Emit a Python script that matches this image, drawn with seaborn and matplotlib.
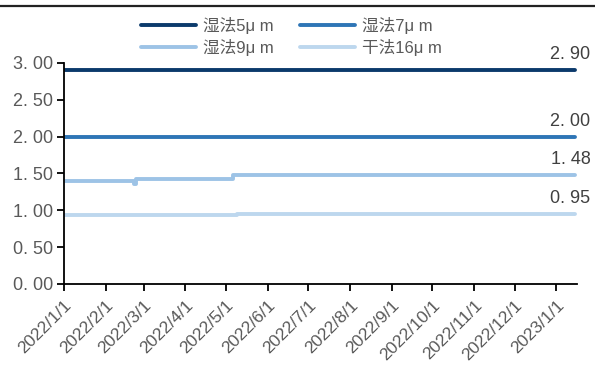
import matplotlib
matplotlib.use("Agg")
import matplotlib.pyplot as plt
from matplotlib.lines import Line2D
import pandas as pd
import seaborn as sns

# Separator price series (yuan / m²), recorded at each price change
wet5_dates = ["2022-01-01", "2023-01-15"]
wet5_values = [2.90, 2.90]

wet7_dates = ["2022-01-01", "2023-01-15"]
wet7_values = [2.00, 2.00]

wet9_dates = ["2022-01-01", "2022-02-21", "2022-02-22", "2022-02-23", "2022-05-06", "2023-01-15"]
wet9_values = [1.40, 1.40, 1.36, 1.43, 1.48, 1.48]

dry16_dates = ["2022-01-01", "2022-05-09", "2023-01-15"]
dry16_values = [0.93, 0.95, 0.95]

series_names = ["湿法5μ m", "湿法7μ m", "湿法9μ m", "干法16μ m"]
series_colors = ["#0b3a6b", "#2e75b6", "#9dc3e6", "#bdd7ee"]
end_labels = ["2. 90", "2. 00", "1. 48", "0. 95"]

y_ticks = [0.0, 0.5, 1.0, 1.5, 2.0, 2.5, 3.0]
x_ticks = pd.date_range("2022-01-01", "2023-01-01", freq="MS")

frames = []
for name, d, v in zip(series_names,
                      [wet5_dates, wet7_dates, wet9_dates, dry16_dates],
                      [wet5_values, wet7_values, wet9_values, dry16_values]):
    frames.append(pd.DataFrame({"date": pd.to_datetime(d), "price": v, "series": name}))
df = pd.concat(frames, ignore_index=True)

sns.set_theme(style="white")
plt.rcParams["font.family"] = ["Liberation Sans", "Noto Sans CJK SC", "DejaVu Sans"]
text_color = "#595959"

fig = plt.figure(figsize=(5.95, 3.65), dpi=100)
ax = fig.add_axes([0.1076, 0.222, 0.8616, 0.606])

sns.lineplot(data=df, x="date", y="price", hue="series", hue_order=series_names,
             palette=series_colors, linewidth=2.8, drawstyle="steps-post",
             estimator=None, legend=False, ax=ax)

ax.set_xlim(pd.Timestamp("2022-01-01"), pd.Timestamp("2023-01-16"))
ax.set_ylim(0, 3.0)
ax.set_yticks(y_ticks)
ax.set_yticklabels([f"{t:.2f}".replace(".", ". ") for t in y_ticks],
                   color=text_color, fontsize=13)
ax.set_xticks(x_ticks)
ax.set_xticklabels([f"{d.year}/{d.month}/{d.day}" for d in x_ticks],
                   rotation=45, ha="right", rotation_mode="anchor",
                   color=text_color, fontsize=12.5)
ax.set_xlabel("")
ax.set_ylabel("")

for s in ["top", "right"]:
    ax.spines[s].set_visible(False)
for s in ["left", "bottom"]:
    ax.spines[s].set_color("black")
    ax.spines[s].set_linewidth(1.3)
ax.tick_params(axis="y", direction="out", length=5, width=1.3, color="black",
               left=True, pad=3)
ax.tick_params(axis="x", direction="out", length=5, width=1.3, color="black",
               bottom=True, pad=5)

# value labels at the right end of each line
last_values = [wet5_values[-1], wet7_values[-1], wet9_values[-1], dry16_values[-1]]
for lab, val in zip(end_labels, last_values):
    ax.annotate(lab, xy=(1.0, val), xycoords=("axes fraction", "data"),
                xytext=(10, 5), textcoords="offset points",
                ha="right", va="bottom", fontsize=13, color="#404040")

# legend filled row by row: 5/7 on the first row, 9/16 on the second
order = [0, 2, 1, 3]
handles = [Line2D([0], [0], color=series_colors[i], lw=2.8) for i in order]
labels = [series_names[i] for i in order]
fig.legend(handles, labels, ncol=2, loc="upper center",
           bbox_to_anchor=(0.49, 0.995), frameon=False, fontsize=12,
           handlelength=3.3, columnspacing=1.6, labelspacing=0.3,
           handletextpad=0.4, labelcolor=text_color, borderaxespad=0.5)

# thin rule across the top of the figure
fig.add_artist(Line2D([0, 1], [0.984, 0.984], transform=fig.transFigure,
                      color="#222222", lw=1.6))

fig.savefig("out.png", dpi=100)
